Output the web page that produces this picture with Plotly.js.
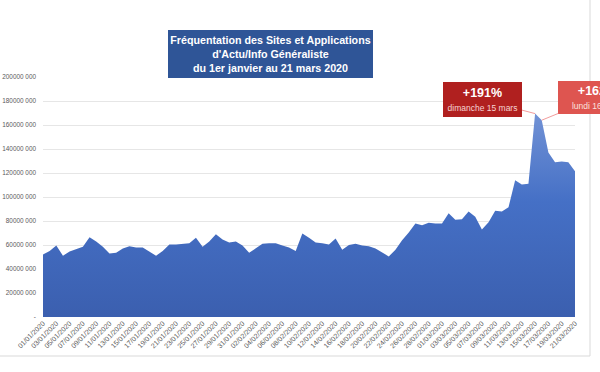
<!DOCTYPE html>
<html>
<head>
<meta charset="utf-8">
<script src="https://cdn.plot.ly/plotly-3.0.1.min.js"></script>
<style>html,body{margin:0;padding:0;background:#fff;}#chart{width:600px;height:372px;}</style>
</head>
<body>
<div id="chart"></div>
<script>
const dates = [
"01/01/2020","02/01/2020","03/01/2020","04/01/2020","05/01/2020","06/01/2020","07/01/2020","08/01/2020","09/01/2020","10/01/2020",
"11/01/2020","12/01/2020","13/01/2020","14/01/2020","15/01/2020","16/01/2020","17/01/2020","18/01/2020","19/01/2020","20/01/2020",
"21/01/2020","22/01/2020","23/01/2020","24/01/2020","25/01/2020","26/01/2020","27/01/2020","28/01/2020","29/01/2020","30/01/2020",
"31/01/2020","01/02/2020","02/02/2020","03/02/2020","04/02/2020","05/02/2020","06/02/2020","07/02/2020","08/02/2020","09/02/2020",
"10/02/2020","11/02/2020","12/02/2020","13/02/2020","14/02/2020","15/02/2020","16/02/2020","17/02/2020","18/02/2020","19/02/2020",
"20/02/2020","21/02/2020","22/02/2020","23/02/2020","24/02/2020","25/02/2020","26/02/2020","27/02/2020","28/02/2020","29/02/2020",
"01/03/2020","02/03/2020","03/03/2020","04/03/2020","05/03/2020","06/03/2020","07/03/2020","08/03/2020","09/03/2020","10/03/2020",
"11/03/2020","12/03/2020","13/03/2020","14/03/2020","15/03/2020","16/03/2020","17/03/2020","18/03/2020","19/03/2020","20/03/2020",
"21/03/2020"];

// visits, in millions
const visitsM = [
52, 55, 59.5, 51, 54.5, 56.5, 58.5, 66.5, 63, 58.5,
53, 53.5, 57, 59, 58, 58, 54.5, 51, 55, 60.5,
60.5, 61, 61.5, 66, 58.5, 63, 69, 64.5, 62, 63,
59.5, 53.5, 57, 61, 61.5, 61.5, 59.5, 58, 55, 69.5,
66, 62, 61.5, 60.5, 65.5, 56, 60, 61, 59.5, 59,
57, 54, 50.5, 56, 64, 70.5, 78, 76.5, 78.5, 78,
78, 86.5, 81, 81.5, 88, 83.5, 73, 79, 88.5, 88,
91.5, 114, 110.5, 111, 169.5, 164, 137, 129, 129.5, 129,
121.5];

const yTickVals = [0, 20e6, 40e6, 60e6, 80e6, 100e6, 120e6, 140e6, 160e6, 180e6, 200e6];
const yTickText = ["-", "20000 000", "40000 000", "60000 000", "80000 000", "100000 000", "120000 000", "140000 000", "160000 000", "180000 000", "200000 000"];

const titleLines = ["Fréquentation des Sites et Applications", "d'Actu/Info Généraliste", "du 1er janvier au 21 mars 2020"];
const callouts = [
  {date: "15/03/2020", pct: "+191%", label: "dimanche 15 mars"},
  {date: "16/03/2020", pct: "+162%", label: "lundi 16 mars"}
];

const visits = visitsM.map(v => v * 1e6);
const xTickVals = dates.filter((d, i) => i % 2 === 0);

const FONT = "Liberation Sans, Arial, sans-serif";

const trace = {
  type: "scatter",
  mode: "lines",
  x: dates,
  y: visits,
  fill: "tozeroy",
  line: {width: 0, color: "#4472C4"},
  fillgradient: {
    type: "vertical",
    colorscale: [[0, "#3B5FAF"], [0.55, "#4570C6"], [1, "#7494D6"]],
    start: 0,
    stop: 175e6
  },
  hoverinfo: "skip"
};

const i1 = dates.indexOf(callouts[0].date);
const i2 = dates.indexOf(callouts[1].date);

const annotations = [
  {
    xref: "paper", yref: "paper", x: 0.4276, y: 1.0958,
    xanchor: "center", yanchor: "middle",
    text: "<b>" + titleLines.join("<br>") + "</b>",
    showarrow: false,
    font: {family: FONT, size: 10.7, color: "#ffffff"},
    bgcolor: "#2F5597",
    width: 205, height: 48,
    borderpad: 0, borderwidth: 0
  },
  {
    xref: "x", yref: "y", x: i1, y: visits[i1],
    ax: -52.6, ay: -13.9,
    text: "<span style='font-size:12.5px'><b>" + callouts[0].pct + "</b></span><br><span style='font-size:8.5px;color:#F6D3D3'>" + callouts[0].label + "</span>",
    showarrow: true, arrowhead: 0, arrowwidth: 1, arrowcolor: "#F29C9C", standoff: 0,
    font: {family: FONT, size: 10.5, color: "#ffffff"},
    bgcolor: "#B0201F",
    width: 79, height: 35, borderpad: 0, borderwidth: 0
  },
  {
    xref: "x", yref: "y", x: i2, y: visits[i2],
    ax: 56, ay: -23,
    text: "<span style='font-size:12.5px'><b>" + callouts[1].pct + "</b></span><br><span style='font-size:8.5px;color:#FBE0DF'>" + callouts[1].label + "</span>",
    showarrow: true, arrowhead: 0, arrowwidth: 1, arrowcolor: "#F29C9C", standoff: 0,
    font: {family: FONT, size: 10.5, color: "#ffffff"},
    bgcolor: "#DE5550",
    width: 79, height: 33, borderpad: 0, borderwidth: 0
  }
];

const layout = {
  width: 600, height: 372,
  margin: {l: 43, r: 25, t: 77, b: 55, pad: 0},
  paper_bgcolor: "#ffffff",
  plot_bgcolor: "#ffffff",
  showlegend: false,
  hovermode: false,
  font: {family: FONT, color: "#595959"},
  xaxis: {
    type: "category",
    range: [0, dates.length - 1],
    tickmode: "array",
    tickvals: xTickVals,
    ticktext: xTickVals,
    tickangle: -45,
    tickfont: {family: FONT, size: 7, color: "#595959"},
    showgrid: false,
    zeroline: false,
    showline: false,
    ticks: ""
  },
  yaxis: {
    range: [0, 200e6],
    tickmode: "array",
    tickvals: yTickVals,
    ticktext: yTickText,
    tickfont: {family: FONT, size: 6.4, color: "#595959"},
    showgrid: true,
    gridcolor: "#E6E6E6",
    gridwidth: 1,
    zeroline: false,
    showline: false,
    ticks: "",
    ticklabelstandoff: 6
  },
  shapes: [
    {type: "line", xref: "paper", yref: "paper", x0: 1.0282, x1: 1.0282, y0: -0.1625, y1: 1.35, line: {color: "#D9D9D9", width: 1}},
    {type: "line", xref: "paper", yref: "paper", x0: -0.1, x1: 1.0282, y0: -0.1625, y1: -0.1625, line: {color: "#D9D9D9", width: 1}}
  ],
  annotations: annotations
};

Plotly.newPlot("chart", [trace], layout, {displayModeBar: false, staticPlot: true});
</script>
</body>
</html>
